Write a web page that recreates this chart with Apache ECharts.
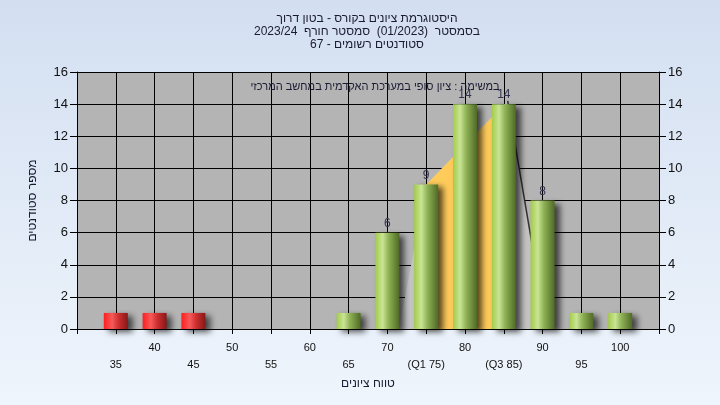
<!DOCTYPE html>
<html>
<head>
<meta charset="utf-8">
<script src="https://cdn.jsdelivr.net/npm/echarts@6/dist/echarts.min.js"></script>
<style>
html,body{margin:0;padding:0;}
#c{width:720px;height:405px;direction:rtl;}
</style>
</head>
<body>
<div id="c"></div>
<script>
// ---- data ----
const titleLines = ['היסטוגרמת ציונים בקורס - בטון דרוך', 'בסמסטר  (01/2023)  סמסטר חורף  2023/24', 'סטודנטים רשומים - 67'];
const subtitle = 'במשימה : ציון סופי במערכת האקדמית במחשב המרכזי';
const xAxisName = 'טווח ציונים';
const yAxisName = 'מספר סטודנטים';
const scores = [35, 40, 45, 50, 55, 60, 65, 70, 75, 80, 85, 90, 95, 100];
const counts = [1, 1, 1, 0, 0, 0, 1, 6, 9, 14, 14, 8, 1, 1];
const failBelow = 55;
const specialTickLabels = {75: '(Q1 75)', 85: '(Q3 85)'};
const curveX = [71.5, 75, 85.5, 90.5];
const curveY = [0, 9, 14.2, 0];
const iqrX = [75, 85];
const iqrY = [9, 13.95];
const tailX = [85.5, 90.5];
const tailY = [14.2, 0];

const chart = echarts.init(document.getElementById('c'));
const G = echarts.graphic.LinearGradient;
const greenGrad = new G(0, 0, 1, 0, [
  {offset: 0, color: '#a2cc48'},
  {offset: 0.3, color: '#c9e496'},
  {offset: 0.55, color: '#8fb255'},
  {offset: 1, color: '#4f6a26'}
]);
const redGrad = new G(0, 0, 1, 0, [
  {offset: 0, color: '#ff1e1e'},
  {offset: 0.35, color: '#f55a5a'},
  {offset: 0.6, color: '#d03030'},
  {offset: 1, color: '#861818'}
]);

const barData = scores.map((s, i) => ({
  value: [s, counts[i]],
  itemStyle: {color: s < failBelow ? redGrad : greenGrad}
}));

const font = 'Arial, "Liberation Sans", sans-serif';
const txt = '#1a1a33';

chart.setOption({
  animation: false,
  backgroundColor: new G(0, 0, 0, 1, [
    {offset: 0, color: '#d3dff1'},
    {offset: 1, color: '#eff5fc'}
  ]),
  textStyle: {fontFamily: font},
  title: [{
    text: titleLines.join('\n'),
    left: 362, top: 7, textAlign: 'center',
    textStyle: {fontSize: 12, fontWeight: 'normal', color: txt, lineHeight: 13, fontFamily: font}
  }, {
    text: subtitle,
    left: 370, top: 76, textAlign: 'center',
    textStyle: {fontSize: 11, fontWeight: 'normal', color: txt, fontFamily: font}
  }],
  grid: {left: 77, right: 61, top: 72, bottom: 76, show: true, backgroundColor: '#b4b4b4', borderWidth: 0},
  xAxis: {
    type: 'value', min: 30, max: 105, interval: 5,
    name: xAxisName, nameLocation: 'middle', nameGap: 43,
    nameTextStyle: {fontSize: 12, color: txt, fontFamily: font},
    axisLine: {show: true, lineStyle: {color: '#000', width: 1}},
    axisTick: {show: true, length: 5, lineStyle: {color: '#000'}},
    splitLine: {show: true, lineStyle: {color: '#000', width: 1}},
    axisLabel: {
      fontSize: 11, color: '#111', margin: 10, lineHeight: 17, fontFamily: font,
      formatter: function (v) {
        if (v < 35 || v > 100) return '';
        const lab = specialTickLabels[v] || String(v);
        return (v % 10 === 5) ? '\n' + lab : lab;
      }
    }
  },
  yAxis: [{
    type: 'value', min: 0, max: 16, interval: 2, position: 'left',
    name: yAxisName, nameLocation: 'middle', nameGap: 38, nameRotate: 90,
    nameTextStyle: {fontSize: 12, color: txt, fontFamily: font},
    axisLine: {show: true, lineStyle: {color: '#000'}},
    axisTick: {show: true, length: 7, lineStyle: {color: '#000'}},
    splitLine: {show: true, lineStyle: {color: '#000', width: 1}},
    axisLabel: {fontSize: 13, color: '#111', margin: 9, fontFamily: font}
  }, {
    type: 'value', min: 0, max: 16, interval: 2, position: 'right',
    axisLine: {show: true, lineStyle: {color: '#000'}},
    axisTick: {show: true, length: 7, lineStyle: {color: '#000'}},
    splitLine: {show: false},
    axisLabel: {fontSize: 13, color: '#111', margin: 9, fontFamily: font}
  }],
  series: [{
    type: 'line', z: 1,
    data: curveX.map((x, i) => [x, curveY[i]]),
    symbol: 'none', lineStyle: {width: 0, color: '#c6c6c6'},
    areaStyle: {color: '#c4c4c4', opacity: 1}
  }, {
    type: 'line', z: 2,
    data: iqrX.map((x, i) => [x, iqrY[i]]),
    symbol: 'none', lineStyle: {width: 0, color: '#ffcc55'},
    areaStyle: {color: '#ffcb5a', opacity: 1}
  }, {
    type: 'line', z: 3,
    data: tailX.map((x, i) => [x, tailY[i]]),
    symbol: 'none', lineStyle: {width: 1.5, color: '#333'}
  }, {
    type: 'bar', z: 5,
    data: barData, barWidth: 24,
    itemStyle: {shadowColor: 'rgba(0,0,0,0.65)', shadowBlur: 6, shadowOffsetX: 5, shadowOffsetY: 3},
    label: {
      show: true, position: 'top', distance: 3, fontSize: 12, color: '#33334d', fontFamily: font,
      formatter: p => (p.value[1] > 1 ? String(p.value[1]) : '')
    }
  }]
});
</script>
</body>
</html>
